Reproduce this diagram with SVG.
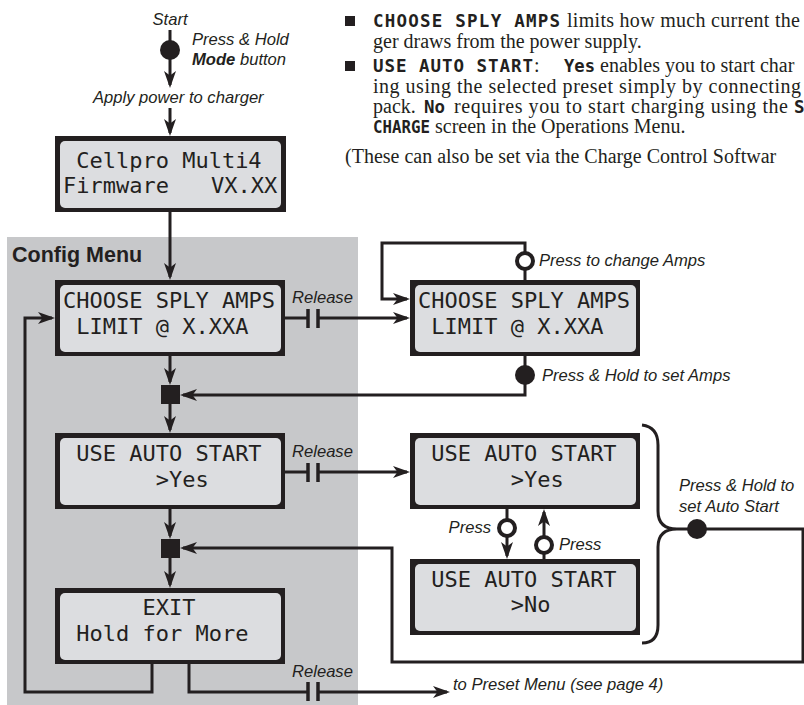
<svg xmlns="http://www.w3.org/2000/svg" width="804" height="705" viewBox="0 0 804 705">
<style>
.lbl{font-family:"Liberation Sans",Arial,sans-serif;font-style:italic;font-size:16.6px;fill:#231f20}
.lcd{font-family:"DejaVu Sans Mono",monospace;font-size:22px;fill:#231f20}
.ser{font-family:"Liberation Serif","Times New Roman",serif;font-size:20px;fill:#231f20}
.mb{font-family:"DejaVu Sans Mono",monospace;font-weight:bold;font-size:17.5px;fill:#231f20}
.ln{fill:none;stroke:#231f20;stroke-width:3}
.ar{fill:none;stroke:#231f20;stroke-width:3;marker-end:url(#ah)}
.frame{fill:#231f20}
.scr{fill:#dcdde0}
.bar{stroke:#231f20;stroke-width:3.5}
.open{fill:#fff;stroke:#231f20;stroke-width:4}
.dot{fill:#231f20}
</style>
<defs>
<marker id="ah" viewBox="0 0 17 12" refX="14" refY="6" markerWidth="17" markerHeight="12" markerUnits="userSpaceOnUse" orient="auto">
<path d="M0,0 L17,6 L0,12 L4.5,6 z" fill="#231f20"/>
</marker>
</defs>

<rect x="7" y="237" width="351" height="468" fill="#c7c8ca"/>
<text x="12" y="262" font-family="Liberation Sans,Arial,sans-serif" font-weight="bold" font-size="21.5" fill="#231f20">Config Menu</text>

<g id="intro-text">
<rect x="345" y="16" width="10" height="10" fill="#231f20"/>
<text class="mb" x="373" y="27" textLength="187" lengthAdjust="spacing">CHOOSE SPLY AMPS</text>
<text class="ser" x="567" y="27" textLength="233" lengthAdjust="spacing">limits how much current the</text>
<text class="ser" x="373" y="48">ger draws from the power supply.</text>
<rect x="345" y="61" width="10" height="10" fill="#231f20"/>
<text class="mb" x="373" y="72" textLength="160" lengthAdjust="spacing">USE AUTO START</text>
<text class="ser" x="534" y="72">:</text>
<text class="mb" x="564" y="72" textLength="31" lengthAdjust="spacingAndGlyphs">Yes</text>
<text class="ser" x="600" y="72">enables you to start char</text>
<text class="ser" x="373" y="93" textLength="428" lengthAdjust="spacing">ing using the selected preset simply by connecting</text>
<text class="ser" x="373" y="113">pack.</text>
<text class="mb" x="424" y="113" textLength="21" lengthAdjust="spacingAndGlyphs">No</text>
<text class="ser" x="454" y="113" textLength="334" lengthAdjust="spacing">requires you to start charging using the</text>
<text class="mb" x="794" y="113">S</text>
<text class="mb" x="373" y="133" textLength="57" lengthAdjust="spacingAndGlyphs">CHARGE</text>
<text class="ser" x="435" y="133">screen in the Operations Menu.</text>
<text class="ser" x="345" y="163" font-size="21">(These can also be set via the Charge Control Softwar</text>
</g>

<g id="connectors">
<line class="ln" x1="170" y1="30" x2="170" y2="50"/>
<line class="ar" x1="170" y1="50" x2="170" y2="85"/>
<line class="ar" x1="170" y1="108" x2="170" y2="133"/>
<line class="ar" x1="170" y1="212" x2="170" y2="277"/>
<polyline class="ln" points="285,318 308,318"/>
<line class="bar" x1="308" y1="309" x2="308" y2="328"/>
<line class="bar" x1="318" y1="309" x2="318" y2="328"/>
<line class="ar" x1="318" y1="318" x2="407" y2="318"/>
<polyline class="ar" points="525,280 525,243 382,243 382,299 407,299"/>
<polyline class="ar" points="525,356 525,395 183,395"/>
<line class="ar" x1="170" y1="356" x2="170" y2="382"/>
<line class="ar" x1="170" y1="404" x2="170" y2="430"/>
<polyline class="ln" points="285,472 308,472"/>
<line class="bar" x1="308" y1="463" x2="308" y2="482"/>
<line class="bar" x1="318" y1="463" x2="318" y2="482"/>
<line class="ar" x1="318" y1="472" x2="407" y2="472"/>
<line class="ar" x1="170" y1="509" x2="170" y2="536"/>
<line class="ar" x1="170" y1="558" x2="170" y2="585"/>
<polyline class="ar" points="677,529 803,529 803,662 392,662 392,548 183,548"/>
<path class="ln" d="M642,425 Q658,427 658,445 L658,511 Q658,529 677,529 Q658,529 658,547 L658,625 Q658,643 642,643"/>
<line class="ar" x1="507" y1="509" x2="507" y2="556"/>
<line class="ar" x1="544" y1="559" x2="544" y2="512"/>
<polyline class="ar" points="152,663 152,692 25,692 25,318 52,318"/>
<polyline class="ln" points="189,663 189,692 308,692"/>
<line class="bar" x1="308" y1="682" x2="308" y2="701"/>
<line class="bar" x1="318" y1="682" x2="318" y2="701"/>
<line class="ar" x1="318" y1="692" x2="447" y2="692"/>
</g>

<g id="start">
<text class="lbl" x="170" y="25" text-anchor="middle">Start</text>
<circle class="dot" cx="170" cy="50" r="10"/>
<text class="lbl" x="192" y="45">Press &amp; Hold</text>
<text class="lbl" x="192" y="65"><tspan font-weight="bold">Mode</tspan> button</text>
<text class="lbl" x="93" y="103">Apply power to charger</text>
</g>

<g id="firmware">
<rect class="frame" x="55" y="136" width="231" height="76"/>
<rect class="scr" x="60" y="141" width="221" height="67" rx="5"/>
<text class="lcd" x="76.2" y="168">Cellpro Multi4</text>
<text class="lcd" x="63" y="193">Firmware</text>
<text class="lcd" x="211" y="193">VX.XX</text>
</g>

<g id="sply-amps">
<rect class="frame" x="55" y="280" width="230" height="76"/>
<rect class="scr" x="60" y="285" width="221" height="67" rx="5"/>
<text class="lcd" x="63" y="308">CHOOSE SPLY AMPS</text>
<text class="lcd" x="76.2" y="334">LIMIT @ X.XXA</text>
<text class="lbl" x="292" y="303">Release</text>
</g>

<g id="sply-amps-edit">
<rect class="frame" x="410" y="280" width="230" height="76"/>
<rect class="scr" x="415" y="285" width="221" height="67" rx="5"/>
<text class="lcd" x="418" y="308">CHOOSE SPLY AMPS</text>
<text class="lcd" x="431.2" y="334">LIMIT @ X.XXA</text>
<circle class="open" cx="525" cy="261" r="8"/>
<text class="lbl" x="539" y="266">Press to change Amps</text>
<circle class="dot" cx="525" cy="375" r="10"/>
<text class="lbl" x="542" y="381">Press &amp; Hold to set Amps</text>
</g>

<g id="join1"><rect x="161" y="385" width="19" height="19" fill="#231f20"/></g>

<g id="auto-start">
<rect class="frame" x="55" y="433" width="230" height="76"/>
<rect class="scr" x="60" y="438" width="221" height="67" rx="5"/>
<text class="lcd" x="76.2" y="461">USE AUTO START</text>
<text class="lcd" x="155.7" y="487">&gt;Yes</text>
<text class="lbl" x="292" y="457">Release</text>
</g>

<g id="auto-yes">
<rect class="frame" x="410" y="433" width="230" height="76"/>
<rect class="scr" x="415" y="438" width="221" height="67" rx="5"/>
<text class="lcd" x="431.2" y="461">USE AUTO START</text>
<text class="lcd" x="510.7" y="487">&gt;Yes</text>
<circle class="open" cx="507" cy="528" r="8"/>
<text class="lbl" x="491" y="533" text-anchor="end">Press</text>
<circle class="open" cx="544" cy="545" r="8"/>
<text class="lbl" x="559" y="550">Press</text>
</g>

<g id="auto-no">
<rect class="frame" x="410" y="559" width="230" height="76"/>
<rect class="scr" x="415" y="564" width="221" height="67" rx="5"/>
<text class="lcd" x="431.2" y="587">USE AUTO START</text>
<text class="lcd" x="510.7" y="612">&gt;No</text>
</g>

<g id="set-auto">
<circle class="dot" cx="697" cy="529" r="10"/>
<text class="lbl" x="679" y="491">Press &amp; Hold to</text>
<text class="lbl" x="679" y="512">set Auto Start</text>
</g>

<g id="join2"><rect x="161" y="539" width="19" height="19" fill="#231f20"/></g>

<g id="exit">
<rect class="frame" x="55" y="588" width="230" height="76"/>
<rect class="scr" x="60" y="593" width="221" height="67" rx="5"/>
<text class="lcd" x="142.4" y="615">EXIT</text>
<text class="lcd" x="76.2" y="641">Hold for More</text>
<text class="lbl" x="292" y="677">Release</text>
<text class="lbl" x="453" y="690">to Preset Menu (see page 4)</text>
</g>
</svg>
